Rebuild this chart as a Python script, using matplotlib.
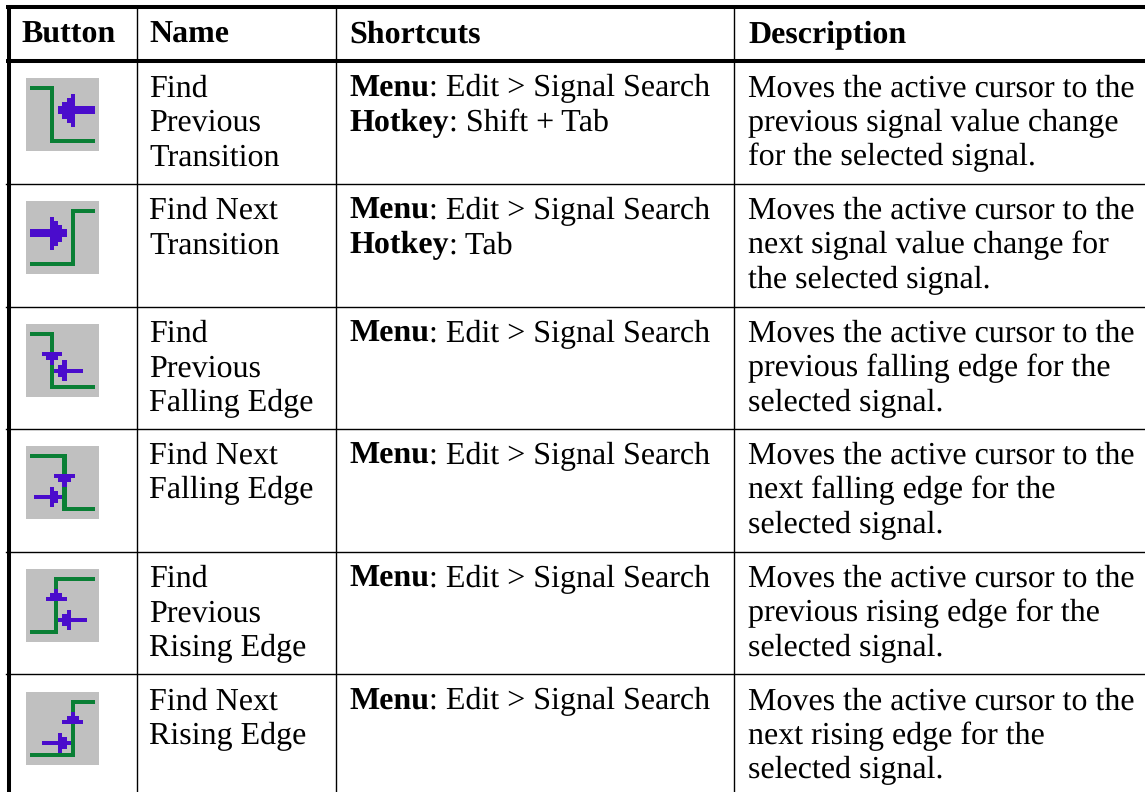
import numpy as np
import matplotlib
matplotlib.use('Agg')
import matplotlib.pyplot as plt
from matplotlib.colors import ListedColormap

plt.rcParams['text.hinting'] = 'no_hinting'
plt.rcParams['text.hinting_factor'] = 1

# table contents
headers = ['Button', 'Name', 'Shortcuts', 'Description']
names = [
    ['Find', 'Previous', 'Transition'],
    ['Find Next', 'Transition'],
    ['Find', 'Previous', 'Falling Edge'],
    ['Find Next', 'Falling Edge'],
    ['Find', 'Previous', 'Rising Edge'],
    ['Find Next', 'Rising Edge'],
]
shortcuts = [
    [('Menu', ': Edit > Signal Search'), ('Hotkey', ': Shift + Tab')],
    [('Menu', ': Edit > Signal Search'), ('Hotkey', ': Tab')],
    [('Menu', ': Edit > Signal Search')],
    [('Menu', ': Edit > Signal Search')],
    [('Menu', ': Edit > Signal Search')],
    [('Menu', ': Edit > Signal Search')],
]
descriptions = [
    ['Moves the active cursor to the', 'previous signal value change', 'for the selected signal.'],
    ['Moves the active cursor to the', 'next signal value change for', 'the selected signal.'],
    ['Moves the active cursor to the', 'previous falling edge for the', 'selected signal.'],
    ['Moves the active cursor to the', 'next falling edge for the', 'selected signal.'],
    ['Moves the active cursor to the', 'previous rising edge for the', 'selected signal.'],
    ['Moves the active cursor to the', 'next rising edge for the', 'selected signal.'],
]

# 18x18 toolbar icons: . grey, g green, b violet
icons = [
    ['..................',
     '..................',
     '.gggggg...........',
     '......g...........',
     '......g....b......',
     '......g...bb......',
     '......g..bbb......',
     '......g.bbbbbbbbb.',
     '......g.bbbbbbbbb.',
     '......g..bbb......',
     '......g...bb......',
     '......g....b......',
     '......g...........',
     '......g...........',
     '......g...........',
     '......ggggggggggg.',
     '..................',
     '..................'],
    ['..................',
     '..................',
     '...........gggggg.',
     '...........g......',
     '......b....g......',
     '......bb...g......',
     '......bbb..g......',
     '.bbbbbbbbb.g......',
     '.bbbbbbbbb.g......',
     '......bbb..g......',
     '......bb...g......',
     '......b....g......',
     '...........g......',
     '...........g......',
     '...........g......',
     '.ggggggggggg......',
     '..................',
     '..................'],
    ['..................',
     '..................',
     '.gggggg...........',
     '......g...........',
     '......g...........',
     '......g...........',
     '......g...........',
     '....bbbbb.........',
     '.....bbb..........',
     '......b..b........',
     '......g.bb........',
     '......gbbbbbbb....',
     '......g.bb........',
     '......g..b........',
     '......g...........',
     '......ggggggggggg.',
     '..................',
     '..................'],
    ['..................',
     '..................',
     '.ggggggggg........',
     '.........g........',
     '.........g........',
     '.........g........',
     '.........g........',
     '.......bbbbb......',
     '........bbb.......',
     '.........b........',
     '......b..g........',
     '......bb.g........',
     '..bbbbbbbg........',
     '......bb.g........',
     '......b..g........',
     '.........gggggggg.',
     '..................',
     '..................'],
    ['..................',
     '..................',
     '.......gggggggggg.',
     '.......g..........',
     '.......g..........',
     '.......b..........',
     '......bbb.........',
     '.....bbbbb........',
     '.......g..........',
     '.......g..........',
     '.......g..b.......',
     '.......g.bb.......',
     '.......gbbbbbbb...',
     '.......g.bb.......',
     '.......g..b.......',
     '.ggggggg..........',
     '..................',
     '..................'],
    ['..................',
     '..................',
     '...........gggggg.',
     '...........g......',
     '...........g......',
     '...........b......',
     '..........bbb.....',
     '.........bbbbb....',
     '...........g......',
     '...........g......',
     '........b..g......',
     '........bb.g......',
     '....bbbbbbbg......',
     '........bb.g......',
     '........b..g......',
     '.ggggggggggg......',
     '..................',
     '..................'],
]

font = 'Liberation Serif'
fs = 22.9
col_x = [21, 149, 349, 748]
row_lines = [61, 183.5, 306.5, 428.5, 551.5, 674]
line_gap = 34.5
icon_tops = [78, 201, 324, 446, 569, 692]
icon_cmap = ListedColormap(['#c0c0c0', '#0a7f35', '#4a0ccc'])

fig = plt.figure(figsize=(11.45, 7.92), dpi=100)
ax = fig.add_axes([0, 0, 1, 1])
ax.axis('off')
ax.set_xlim(0, 1145)
ax.set_ylim(792, 0)
renderer = fig.canvas.get_renderer()

# grid lines
for y in row_lines[1:]:
    ax.plot([6, 1145], [y, y], color='black', lw=1.0)
for x in [137, 335.5, 733.5]:
    ax.plot([x, x], [6, 792], color='black', lw=1.0)
ax.plot([6, 1145], [7, 7], color='black', lw=2.9, solid_capstyle='butt')
ax.plot([6, 1145], [61, 61], color='black', lw=2.9, solid_capstyle='butt')
ax.plot([8.5, 8.5], [5, 792], color='black', lw=2.9, solid_capstyle='butt')

# header
for x, h in zip(col_x, headers):
    ax.text(x, 43, h, family=font, weight='bold', fontsize=fs, va='baseline')

# body rows
for i in range(len(names)):
    y0 = row_lines[i] + 35.5
    grid = np.array([['.gb'.index(c) for c in row] for row in icons[i]])
    top = icon_tops[i]
    ax.imshow(grid, cmap=icon_cmap, vmin=0, vmax=2, interpolation='nearest',
              extent=(26, 99, top + 73, top), aspect='auto', zorder=2)
    for j, t in enumerate(names[i]):
        ax.text(col_x[1], y0 + j * line_gap, t, family=font, fontsize=fs, va='baseline')
    for j, (b, t) in enumerate(shortcuts[i]):
        lab = ax.text(col_x[2], y0 + j * line_gap, b, family=font, weight='bold', fontsize=fs, va='baseline')
        # plain part continues right after the bold word
        w = lab.get_window_extent(renderer).width
        ax.text(col_x[2] + w, y0 + j * line_gap, t, family=font, fontsize=fs, va='baseline')
    for j, t in enumerate(descriptions[i]):
        ax.text(col_x[3], y0 + j * line_gap, t, family=font, fontsize=fs, va='baseline')

ax.set_xlim(0, 1145)
ax.set_ylim(792, 0)
fig.savefig('out.png', dpi=100)
plt.close(fig)
